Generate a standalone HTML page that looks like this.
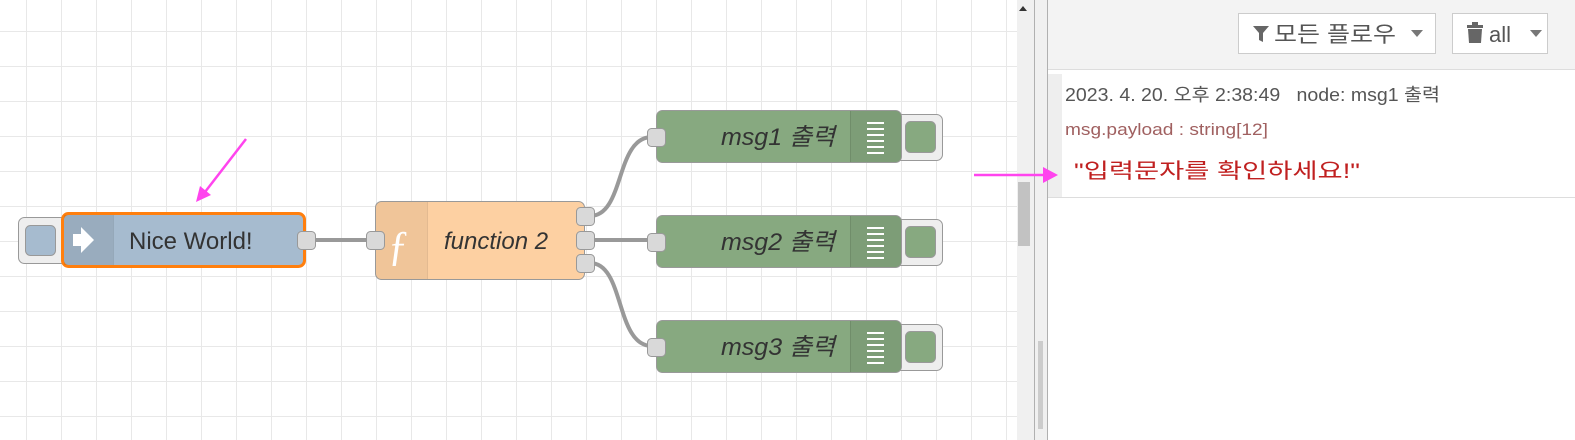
<!DOCTYPE html>
<html><head><meta charset="utf-8"><style>
body{margin:0;width:1575px;height:440px;overflow:hidden;background:#fff;font-family:"Liberation Sans","Noto Sans CJK KR",sans-serif;}
</style></head><body>
<svg width="1575" height="440" xmlns="http://www.w3.org/2000/svg" style="position:absolute;left:0;top:0">
<defs>
<pattern id="g" x="-8" y="-3" width="35" height="35" patternUnits="userSpaceOnUse">
<rect x="34" y="0" width="2" height="35" fill="#e8e8e8"/><rect x="0" y="34" width="35" height="2" fill="#e8e8e8"/>
</pattern>
</defs>
<rect x="0" y="0" width="1017" height="440" fill="url(#g)"/>
<rect x="1017" y="0" width="30" height="440" fill="#f0f0f0"/>
<rect x="1034" y="0" width="1" height="440" fill="#b0b0b0"/>
<rect x="1047" y="0" width="1" height="440" fill="#b0b0b0"/>
<rect x="1018" y="182" width="12" height="64" fill="#c2c2c2"/>
<rect x="1038" y="341" width="5" height="88" fill="#cccccc"/>
<polygon points="1019,11 1027,11 1023,6" fill="#333"/>
<rect x="1048" y="0" width="527" height="69" fill="#f3f3f3"/>
<rect x="1048" y="69" width="527" height="1" fill="#ddd"/>
<rect x="1238.5" y="13.5" width="197" height="40" fill="#fff" stroke="#ccc"/>
<polygon points="1253,26 1269,26 1263,33 1263,42 1259,40 1259,33" fill="#666"/>
<text x="1274" y="42" font-size="22" fill="#555" textLength="122" lengthAdjust="spacingAndGlyphs">모든 플로우</text>
<polygon points="1411,30 1423,30 1417,37" fill="#777"/>
<rect x="1452.5" y="13.5" width="95" height="40" fill="#fff" stroke="#ccc"/>
<rect x="1467" y="25" width="16" height="3" fill="#666"/><rect x="1472" y="22" width="6" height="3" fill="#666"/>
<path d="M1468,29 h14 l-1,14 h-12 z" fill="#666"/>
<text x="1489" y="42" font-size="22" fill="#555">all</text>
<polygon points="1530,30 1542,30 1536,37" fill="#777"/>
<rect x="1048" y="74" width="14" height="123" fill="#eee"/>
<rect x="1048" y="197" width="527" height="1" fill="#ddd"/>
<text x="1065" y="101" font-size="18" fill="#555" textLength="375" lengthAdjust="spacingAndGlyphs">2023. 4. 20. 오후 2:38:49 <tspan dx="10">node: msg1 출력</tspan></text>
<text x="1065" y="135" font-size="17" fill="#a06060" textLength="203" lengthAdjust="spacingAndGlyphs">msg.payload : string[12]</text>
<text x="1074" y="178" font-size="21" fill="#c02020" textLength="286" lengthAdjust="spacingAndGlyphs">"입력문자를 확인하세요!"</text>
<g stroke="#999" stroke-width="4" fill="none">
<path d="M310,240 H372"/>
<path d="M590,240 H652"/>
<path d="M590,216 C625,216 615,137 652,137"/>
<path d="M590,263 C625,263 615,346 652,346"/>
</g>
<rect x="18.5" y="217.5" width="48" height="46" rx="6" fill="#eee" stroke="#999"/>
<rect x="25.5" y="225.5" width="30" height="30" rx="5" fill="#a6bbcf" stroke="#999"/>
<rect x="62.5" y="213.5" width="242" height="53" rx="6" fill="#a6bbcf" stroke="#ff7f0e" stroke-width="3"/>
<path d="M64,215 h49 v50 h-49 z" fill="#000" opacity="0.08"/>
<rect x="113" y="215" width="1" height="50" fill="#000" opacity="0.1"/>
<path d="M73,234 h8 v-7 l13,13 l-13,13 v-7 h-8 z" fill="#fff"/>
<text x="129" y="249" font-size="24" fill="#333">Nice World!</text>
<rect x="297.5" y="231.5" width="18" height="18" rx="4" fill="#d9d9d9" stroke="#999"/>
<rect x="375.5" y="201.5" width="209" height="78" rx="6" fill="#fdd0a2" stroke="#999"/>
<path d="M381,202 h46 v77 h-46 a5,5 0 0 1 -5,-5 v-67 a5,5 0 0 1 5,-5z" fill="#000" opacity="0.05"/>
<rect x="427" y="202" width="1" height="77" fill="#000" opacity="0.1"/>
<text x="388" y="260" font-size="42" fill="#fff" font-family="Liberation Serif,serif">ƒ</text>
<text x="444" y="249" font-size="24" font-style="italic" fill="#333">function 2</text>
<rect x="366.5" y="231.5" width="18" height="18" rx="4" fill="#d9d9d9" stroke="#999"/>
<rect x="576.5" y="207.5" width="18" height="18" rx="4" fill="#d9d9d9" stroke="#999"/>
<rect x="576.5" y="231.5" width="18" height="18" rx="4" fill="#d9d9d9" stroke="#999"/>
<rect x="576.5" y="254.5" width="18" height="18" rx="4" fill="#d9d9d9" stroke="#999"/>
<g id="d1">
<rect x="895.5" y="114.5" width="47" height="46" rx="6" fill="#eee" stroke="#999"/>
<rect x="905.5" y="121.5" width="30" height="31" rx="5" fill="#87a980" stroke="#999"/>
<rect x="656.5" y="110.5" width="245" height="52" rx="6" fill="#87a980" stroke="#999"/>
<path d="M850,111 h46 a5,5 0 0 1 5,5 v41 a5,5 0 0 1 -5,5 h-46z" fill="#000" opacity="0.07"/>
<rect x="850" y="111" width="1" height="51" fill="#000" opacity="0.1"/>
<g fill="#fff"><rect x="867" y="122" width="17" height="2"/><rect x="867" y="128" width="17" height="2"/><rect x="867" y="134" width="17" height="2"/><rect x="867" y="140" width="17" height="2"/><rect x="867" y="146" width="17" height="2"/><rect x="867" y="152" width="17" height="2"/></g>
<rect x="647.5" y="128.5" width="18" height="18" rx="4" fill="#d9d9d9" stroke="#999"/>
</g>
<text x="721" y="145" font-size="24" font-style="italic" fill="#333" textLength="114" lengthAdjust="spacingAndGlyphs">msg1 출력</text>
<use href="#d1" y="105"/>
<text x="721" y="250" font-size="24" font-style="italic" fill="#333" textLength="114" lengthAdjust="spacingAndGlyphs">msg2 출력</text>
<use href="#d1" y="210"/>
<text x="721" y="355" font-size="24" font-style="italic" fill="#333" textLength="114" lengthAdjust="spacingAndGlyphs">msg3 출력</text>
<g stroke="#ff44ee" stroke-width="2.5" fill="#ff44ee">
<line x1="246" y1="139" x2="205" y2="192"/>
<line x1="974" y1="175" x2="1045" y2="175"/>
</g>
<polygon points="196,202 200,186 211,195" fill="#ff44ee"/>
<polygon points="1058,175 1043,167 1043,183" fill="#ff44ee"/>
</svg>
</body></html>
